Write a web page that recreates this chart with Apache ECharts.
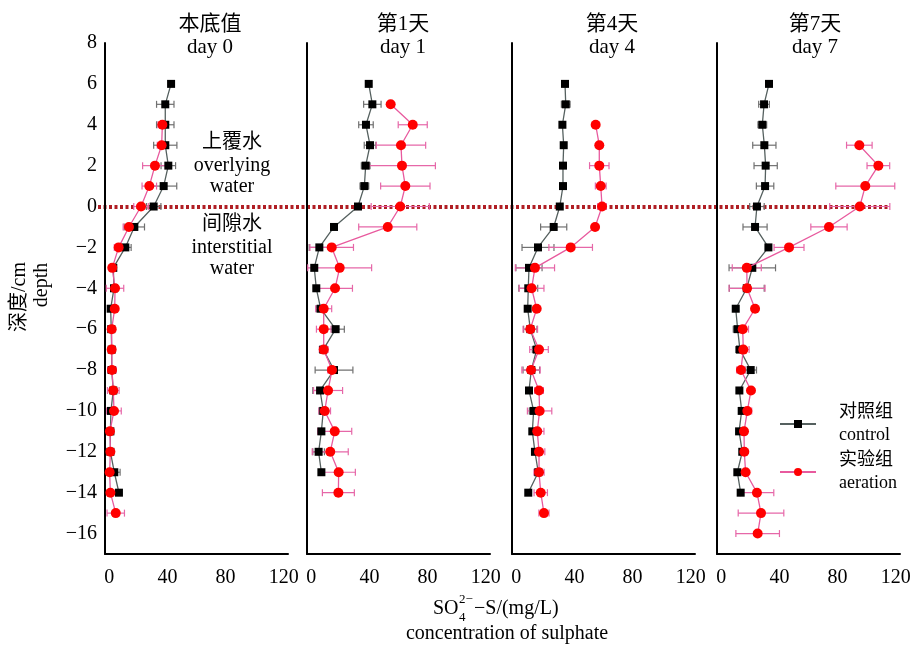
<!DOCTYPE html>
<html>
<head>
<meta charset="utf-8">
<title>SO4-S depth profiles</title>
<script src="https://cdn.jsdelivr.net/npm/echarts@6.0.0/dist/echarts.min.js"></script>
<style>
    html, body { margin: 0; padding: 0; background: #fff; }
    #chart { width: 916px; height: 650px; }
</style>
</head>
<body>
<div id="chart"></div>
<script>
    // depth (cm), one point per cm
    var depths = [6, 5, 4, 3, 2, 1, 0, -1, -2, -3, -4, -5, -6, -7, -8, -9, -10, -11, -12, -13, -14, -15, -16];

    // day 0
    var ctrlDay0    = [42.5, 38.5, 38.5, 38.5, 40.6, 37.4, 30.5, 17.2, 11, 2.7, 3.2, 0.9, 1.3, 1.6, 1.6, 2.7, 1.1, 0.7, 0.7, 3.4, 6.6, null, null];
    var ctrlErrDay0 = [0, 6, 6, 8, 5, 9, 5, 7, 4, 0, 0, 0, 0, 0, 0, 0, 0, 0, 0, 4, 0, null, null];
    var aerDay0     = [null, null, 36.5, 36, 31.4, 27.5, 21.8, 13.5, 6.4, 2, 3.9, 3.7, 1.6, 1.6, 1.8, 2.7, 3.2, 0.4, 0.7, 0.2, 0.7, 4.4, null];
    var aerErrDay0  = [null, null, 3, 3, 8.5, 5, 5, 4, 3, 0, 6, 0, 0, 0, 3, 4, 5, 0, 0, 0, 0, 6, null];

    // day 1
    var ctrlDay1    = [39.5, 42, 37.6, 40.4, 37.4, 36.5, 32.1, 15.6, 5.5, 2, 3.4, 6.4, 16.7, 8.2, 15.6, 6, 8.2, 6.9, 5, 6.9, null, null, null];
    var ctrlErrDay1 = [0, 6, 5, 4, 3, 3, 0, 0, 7, 0, 0, 3, 6, 0, 13, 5, 3, 0, 4, 0, null, null, null];
    var aerDay1     = [null, 54.6, 69.8, 61.7, 62.4, 64.7, 61.2, 52.6, 14, 19.5, 16.3, 8.5, 8.5, 8.5, 14.2, 11.5, 9.2, 16.1, 13, 18.8, 18.6, null, null];
    var aerErrDay1  = [null, 0, 10, 17, 23, 17, 20, 20, 15, 22, 12, 5.5, 5, 3, 3, 10, 4, 11.7, 12.4, 11.5, 11, null, null];

    // day 4
    var ctrlDay4    = [33.5, 34, 31.7, 32.6, 32.1, 32.1, 29.9, 25.7, 14.9, 8.7, 8.2, 7.8, 9.6, 14, 10.3, 8.7, 11.9, 11, 12.8, 15.1, 8.2, null, null];
    var ctrlErrDay4 = [1, 3, 0, 0, 0, 0, 0, 9, 11, 9, 6.5, 0, 4.6, 3, 5.7, 0, 3, 2, 2, 2, 0, null, null];
    var aerDay4     = [null, null, 54.6, 57.1, 57.1, 58.1, 59, 54.2, 37.4, 12.8, 10.5, 14, 9.6, 15.6, 10.1, 15.6, 16, 14.4, 15.6, 15.6, 16.8, 19, null];
    var aerErrDay4  = [null, null, 0, 0, 6.7, 3.7, 3, 0, 15, 13.5, 8.5, 0, 5, 6.4, 6.3, 3, 8.4, 4.6, 4, 3.5, 4.6, 3.5, null];

    // day 7
    var ctrlDay7    = [32.8, 29.4, 28.2, 29.6, 30.5, 30.1, 24.5, 23.2, 32.4, 21.3, 17.5, 9.9, 11.2, 12.8, 20.2, 12.4, 14, 12.2, 14.4, 11, 13.3, null, null];
    var ctrlErrDay7 = [0, 3.7, 3, 8, 8, 6, 5, 8.3, 0, 16, 12, 0, 3, 3, 4, 0, 0, 0, 0, 0, 0, null, null];
    var aerDay7     = [null, null, null, 95, 108.1, 99.1, 95.3, 74.1, 46.6, 17.5, 17.7, 23.2, 14.7, 15.1, 13.5, 20.4, 17.9, 15.6, 15.8, 16.7, 24.5, 27.3, 25];
    var aerErrDay7  = [null, null, null, 8.8, 7.8, 20.3, 20.7, 12.5, 10.3, 10, 12.4, 0, 4, 4, 3, 0, 3, 0, 0, 0, 11.6, 15.7, 15];

    var panelTitles = ['本底值\nday 0', '第1天\nday 1', '第4天\nday 4', '第7天\nday 7'];
    var xTicks = [0, 40, 80, 120];
    var yTicks = [8, 6, 4, 2, 0, -2, -4, -6, -8, -10, -12, -14, -16];

    var panels = [
        {ctrl: ctrlDay0, ctrlErr: ctrlErrDay0, aer: aerDay0, aerErr: aerErrDay0},
        {ctrl: ctrlDay1, ctrlErr: ctrlErrDay1, aer: aerDay1, aerErr: aerErrDay1},
        {ctrl: ctrlDay4, ctrlErr: ctrlErrDay4, aer: aerDay4, aerErr: aerErrDay4},
        {ctrl: ctrlDay7, ctrlErr: ctrlErrDay7, aer: aerDay7, aerErr: aerErrDay7}
    ];

    var serif = "'Liberation Serif', 'Noto Sans CJK SC', serif";
    var gridLeft = [105, 307, 512, 717];
    var titleX = [205, 398, 607, 810];

    function pairs(vals) {
        var out = [];
        depths.forEach(function (d, i) {
            if (vals[i] != null) out.push([vals[i], d]);
        });
        return out;
    }

    function errPairs(vals, errs) {
        var out = [];
        depths.forEach(function (d, i) {
            if (vals[i] != null && errs[i]) out.push([vals[i], errs[i], d]);
        });
        return out;
    }

    function renderErr(params, api) {
        var x = api.value(0), e = api.value(1), y = api.value(2);
        var a = api.coord([x - e, y]);
        var b = api.coord([x + e, y]);
        var h = 3.5;
        var style = {stroke: api.visual('color'), lineWidth: 1.2};
        return {
            type: 'group',
            children: [
                {type: 'line', shape: {x1: a[0], y1: a[1], x2: b[0], y2: b[1]}, style: style},
                {type: 'line', shape: {x1: a[0], y1: a[1] - h, x2: a[0], y2: a[1] + h}, style: style},
                {type: 'line', shape: {x1: b[0], y1: b[1] - h, x2: b[0], y2: b[1] + h}, style: style}
            ]
        };
    }

    var grids = [], xAxes = [], yAxes = [], series = [], titles = [];
    panels.forEach(function (p, i) {
        grids.push({left: gridLeft[i], top: 43, width: 183, height: 511});
        xAxes.push({
            type: 'value', gridIndex: i, min: -3, max: 123,
            axisLine: {onZero: false, lineStyle: {color: '#000', width: 2}},
            axisTick: {show: false},
            splitLine: {show: false},
            axisLabel: {customValues: xTicks, color: '#000', fontSize: 20, fontFamily: serif, margin: 14}
        });
        yAxes.push({
            type: 'value', gridIndex: i, min: -17, max: 8,
            axisLine: {show: true, onZero: false, lineStyle: {color: '#000', width: 2}},
            axisTick: {show: false},
            splitLine: {show: false},
            axisLabel: {
                show: i === 0, customValues: yTicks, color: '#000', fontSize: 20, fontFamily: serif, margin: 8,
                formatter: function (v) { return String(v).replace('-', '−'); }
            }
        });
        titles.push({
            text: panelTitles[i], left: titleX[i], top: 8, textAlign: 'center',
            textStyle: {fontFamily: serif, fontSize: 21, fontWeight: 'normal', color: '#000', lineHeight: 23}
        });
        series.push({
            name: 'ctrlErr', type: 'custom', xAxisIndex: i, yAxisIndex: i,
            itemStyle: {color: '#707070'}, encode: {x: 0, y: 2},
            renderItem: renderErr, data: errPairs(p.ctrl, p.ctrlErr), z: 2
        });
        series.push({
            name: 'aerErr', type: 'custom', xAxisIndex: i, yAxisIndex: i,
            itemStyle: {color: '#e667a8'}, encode: {x: 0, y: 2},
            renderItem: renderErr, data: errPairs(p.aer, p.aerErr), z: 2
        });
        series.push({
            name: '对照组', type: 'line', xAxisIndex: i, yAxisIndex: i,
            symbol: 'rect', symbolSize: 8,
            itemStyle: {color: '#000'},
            lineStyle: {color: '#55605f', width: 1.3},
            data: pairs(p.ctrl), z: 3
        });
        series.push({
            name: '实验组', type: 'line', xAxisIndex: i, yAxisIndex: i,
            symbol: 'circle', symbolSize: 10,
            itemStyle: {color: '#ff0000'},
            lineStyle: {color: '#e85a9e', width: 1.3},
            data: pairs(p.aer), z: 4
        });
    });

    var textStyle = {fontFamily: serif, fontSize: 20, fill: '#000', textAlign: 'center', textVerticalAlign: 'middle'};
    function txt(s, x, y, extra) {
        return {type: 'text', x: x, y: y, style: Object.assign({}, textStyle, {text: s}, extra || {})};
    }

    var graphics = [
        txt('上覆水', 232, 143), txt('overlying', 232, 166), txt('water', 232, 187),
        txt('间隙水', 232, 225), txt('interstitial', 232, 248), txt('water', 232, 269),
        txt('深度/cm', 20, 297), txt('depth', 42, 285),
        txt('SO', 433, 609, {textAlign: 'left'}),
        txt('2−', 459, 600, {fontSize: 13, textAlign: 'left'}),
        txt('4', 459, 618, {fontSize: 13, textAlign: 'left'}),
        txt('−S/(mg/L)', 474, 609, {textAlign: 'left'}),
        txt('concentration of sulphate', 507, 634)
    ];
    graphics[6].rotation = Math.PI / 2;
    graphics[7].rotation = Math.PI / 2;

    var chart = echarts.init(document.getElementById('chart'));
    var option = {
        backgroundColor: '#fff',
        animation: false,
        title: titles,
        grid: grids,
        xAxis: xAxes,
        yAxis: yAxes,
        legend: {
            data: ['对照组', '实验组'],
            orient: 'vertical', left: 774, top: 396,
            itemWidth: 36, itemHeight: 10, itemGap: 2,
            formatter: function (name) {
                return name === '对照组' ? '对照组\ncontrol' : '实验组\naeration';
            },
            textStyle: {fontFamily: serif, fontSize: 18, lineHeight: 23, color: '#000', padding: [0, 0, 0, 18]}
        },
        graphic: graphics,
        series: series
    };
    chart.setOption(option);

    // dotted line at depth 0, through all four panels
    var y0 = Math.round(chart.convertToPixel({gridIndex: 0}, [0, 0])[1]);
    var xa = chart.convertToPixel({gridIndex: 0}, [-3, 0])[0] - 7;
    var xb = chart.convertToPixel({gridIndex: 3}, [116, 0])[0];
    chart.setOption({
        graphic: graphics.concat([{
            type: 'line', id: 'zeroLine', z: -1,
            shape: {x1: xa, y1: y0, x2: xb, y2: y0},
            style: {stroke: '#b01e24', lineWidth: 4, lineDash: [3, 2.5]}
        }])
    });
</script>
</body>
</html>
